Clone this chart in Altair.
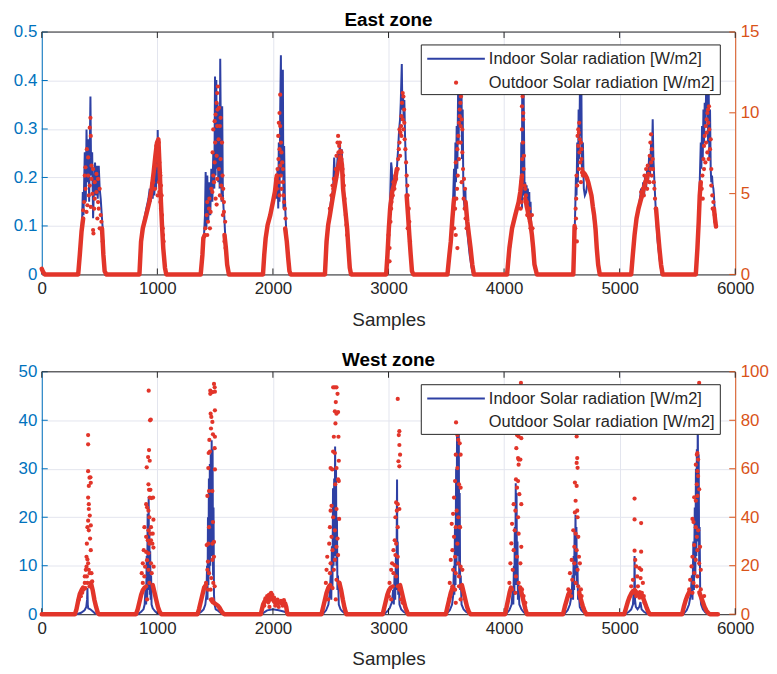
import altair as alt
import pandas as pd

# ---------------- values ----------------
x_ticks = [0, 1000, 2000, 3000, 4000, 5000, 6000]
east_left_ticks = [0, 0.1, 0.2, 0.3, 0.4, 0.5]
east_right_ticks = [0, 5, 10, 15]
west_left_ticks = [0, 10, 20, 30, 40, 50]
west_right_ticks = [0, 20, 40, 60, 80, 100]
legend_labels = ["Indoor Solar radiation [W/m2]", "Outdoor Solar radiation [W/m2]"]
titles = ["East zone", "West zone"]
x_title = "Samples"

# East zone - indoor solar radiation (left axis), (sample, value)
east_indoor = [
    (0, 0.01), (25, 0),
    (321, 0), (338, 0.068), (350, 0.122), (355, 0.170), (361, 0.122), (372, 0.252), (381, 0.150), (387, 0.299),
    (395, 0.190), (401, 0.279), (410, 0.150), (421, 0.367), (427, 0.204), (436, 0.252), (444, 0.116), (453, 0.190),
    (461, 0.231), (467, 0.163), (476, 0.224), (484, 0.156), (493, 0.224), (501, 0.177), (510, 0.156), (519, 0.122),
    (527, 0.095), (536, 0.041), (547, 0),
    (848, 0), (865, 0.068), (882, 0.109), (905, 0.136), (923, 0.156), (934, 0.177), (943, 0.150), (951, 0.190),
    (960, 0.156), (968, 0.211), (974, 0.163), (983, 0.231), (988, 0.177), (994, 0.252), (1000, 0.190), (1003, 0.298),
    (1009, 0.204), (1014, 0.272), (1020, 0.184), (1026, 0.218), (1031, 0.156), (1037, 0.136), (1043, 0.109),
    (1049, 0.075), (1057, 0.041), (1069, 0.007), (1077, 0),
    (1378, 0), (1392, 0.054), (1404, 0.082), (1412, 0.122), (1418, 0.211), (1424, 0.095), (1432, 0.204), (1441, 0.109),
    (1450, 0.190), (1458, 0.122), (1467, 0.218), (1476, 0.150), (1484, 0.252), (1493, 0.177), (1499, 0.408),
    (1504, 0.204), (1510, 0.401), (1516, 0.218), (1521, 0.354), (1527, 0.190), (1533, 0.340), (1539, 0.177),
    (1544, 0.445), (1550, 0.272), (1556, 0.150), (1561, 0.347), (1567, 0.163), (1573, 0.136), (1579, 0.122),
    (1584, 0.095), (1593, 0.054), (1604, 0.014), (1616, 0),
    (1917, 0), (1931, 0.054), (1948, 0.095), (1971, 0.122), (1994, 0.143), (2011, 0.163), (2023, 0.190), (2031, 0.156),
    (2040, 0.218), (2046, 0.136), (2051, 0.272), (2057, 0.150), (2063, 0.340), (2069, 0.452), (2074, 0.204),
    (2080, 0.394), (2086, 0.422), (2091, 0.136), (2097, 0.265), (2103, 0.163), (2109, 0.122), (2114, 0.095),
    (2123, 0.068), (2132, 0.034), (2143, 0),
    (2453, 0), (2470, 0.068), (2487, 0.122), (2504, 0.156), (2521, 0.177), (2530, 0.241), (2539, 0.190), (2550, 0.204),
    (2562, 0.252), (2570, 0.218), (2579, 0.272), (2587, 0.231), (2596, 0.258), (2605, 0.190), (2613, 0.177),
    (2622, 0.150), (2630, 0.129), (2639, 0.095), (2648, 0.068), (2659, 0.027), (2670, 0),
    (2983, 0), (2994, 0.054), (3006, 0.122), (3014, 0.156), (3023, 0.231), (3029, 0.218), (3034, 0.156), (3043, 0.177),
    (3054, 0.204), (3066, 0.190), (3074, 0.224), (3083, 0.258), (3092, 0.299), (3100, 0.320), (3106, 0.354),
    (3115, 0.434), (3120, 0.340), (3126, 0.374), (3132, 0.313), (3137, 0.360), (3143, 0.286), (3149, 0.238),
    (3155, 0.190), (3160, 0.156), (3169, 0.122), (3178, 0.088), (3186, 0.054), (3198, 0.014), (3209, 0),
    (3513, 0), (3527, 0.041), (3541, 0.082), (3553, 0.122), (3561, 0.170), (3567, 0.218), (3573, 0.156), (3579, 0.272),
    (3584, 0.190), (3590, 0.306), (3596, 0.218), (3602, 0.374), (3607, 0.272), (3613, 0.408), (3619, 0.46),
    (3624, 0.306), (3630, 0.45), (3636, 0.238), (3642, 0.340), (3647, 0.190), (3653, 0.150), (3659, 0.136),
    (3665, 0.177), (3670, 0.122), (3679, 0.095), (3690, 0.068), (3702, 0.041), (3719, 0.014), (3733, 0),
    (4029, 0), (4050, 0.05), (4075, 0.10), (4100, 0.13), (4125, 0.150), (4140, 0.170), (4143, 0.150), (4149, 0.272),
    (4155, 0.136), (4157, 0.408), (4163, 0.163), (4166, 0.46), (4172, 0.306), (4178, 0.156), (4183, 0.190),
    (4189, 0.136), (4195, 0.184), (4200, 0.122), (4206, 0.177), (4212, 0.116), (4218, 0.170), (4223, 0.109),
    (4229, 0.150), (4235, 0.095), (4241, 0.068), (4252, 0.041), (4263, 0.014), (4281, 0),
    (4602, 0), (4610, 0.082), (4616, 0.136), (4622, 0.204), (4627, 0.163), (4633, 0.272), (4639, 0.190), (4645, 0.340),
    (4650, 0.238), (4656, 0.374), (4662, 0.286), (4668, 0.43), (4673, 0.218), (4682, 0.272), (4690, 0.177),
    (4699, 0.163), (4710, 0.170), (4722, 0.190), (4739, 0.184), (4756, 0.156), (4773, 0.122), (4788, 0.088),
    (4799, 0.054), (4814, 0.020), (4828, 0),
    (5103, 0), (5117, 0.054), (5134, 0.095), (5152, 0.122), (5172, 0.150), (5186, 0.177), (5195, 0.156), (5203, 0.190),
    (5212, 0.163), (5220, 0.204), (5229, 0.177), (5238, 0.218), (5246, 0.190), (5255, 0.245), (5263, 0.204),
    (5272, 0.272), (5278, 0.218), (5286, 0.320), (5292, 0.238), (5301, 0.190), (5309, 0.150), (5318, 0.109),
    (5329, 0.068), (5344, 0.034), (5364, 0),
    (5662, 0), (5673, 0.054), (5684, 0.122), (5693, 0.190), (5702, 0.272), (5707, 0.218), (5713, 0.306), (5719, 0.238),
    (5725, 0.340), (5730, 0.272), (5736, 0.354), (5742, 0.306), (5748, 0.374), (5753, 0.408), (5759, 0.44),
    (5765, 0.272), (5770, 0.394), (5776, 0.238), (5782, 0.340), (5788, 0.218), (5793, 0.190), (5799, 0.204),
    (5805, 0.184), (5811, 0.177), (5816, 0.163), (5822, 0.136), (5828, 0.109), (5834, 0.11),
]

# East zone - outdoor radiation (right axis): dense runs of readings, one list per run
east_outdoor_runs = [
    [(0, 0.35), (12, 0.15), (25, 0), (315, 0), (329, 1.22), (344, 2.65), (358, 3.46)],
    [(521, 2.85), (533, 1.22), (544, 0.2), (559, 0), (845, 0), (859, 2.04), (874, 2.85), (903, 3.67), (931, 4.48),
     (951, 5.30), (968, 6.32), (983, 7.34), (997, 8.16), (1009, 8.36), (1020, 6.52), (1031, 4.48), (1040, 3.06),
     (1051, 1.63), (1066, 0.41), (1077, 0), (1375, 0), (1390, 1.22), (1398, 2.24), (1410, 2.44)],
    [(1581, 2.44), (1593, 1.63), (1604, 0.61), (1619, 0), (1914, 0), (1925, 1.22), (1937, 2.24), (1954, 3.06),
     (1977, 3.67), (2000, 4.48), (2017, 5.10), (2034, 6.12)],
    [(2106, 2.85), (2120, 2.04), (2132, 1.02), (2143, 0.2), (2154, 0), (2450, 0), (2464, 2.04), (2478, 3.06),
     (2493, 3.67), (2516, 4.69), (2536, 5.50), (2556, 6.32), (2573, 6.93), (2585, 7.3), (2597, 6.8), (2607, 5.30),
     (2625, 4.07), (2642, 2.85), (2653, 1.63), (2665, 0.41), (2676, 0), (2980, 0), (2991, 1.22), (3003, 2.85),
     (3014, 4.07), (3031, 5.10), (3054, 5.71), (3072, 6.52)],
    [(3157, 4.89), (3169, 3.67), (3180, 2.44), (3192, 1.22), (3203, 0.2), (3215, 0), (3510, 0), (3524, 1.02),
     (3539, 2.04), (3553, 3.46), (3567, 4.69)],
    [(3667, 4.48), (3682, 3.26), (3696, 2.44), (3710, 1.63), (3725, 0.61), (3739, 0), (4026, 0), (4046, 1.63),
     (4069, 2.85), (4097, 3.67), (4126, 4.48), (4140, 5.10), (4155, 6.12)],
    [(4183, 4.69), (4206, 3.87), (4226, 3.26), (4241, 2.44), (4252, 1.63), (4263, 0.61), (4284, 0), (4599, 0),
     (4605, 1.5), (4610, 3.0)],
    [(4676, 6.3), (4685, 6.32), (4700, 6.2), (4715, 6.0), (4728, 5.71), (4742, 5.3), (4756, 4.89), (4768, 4.2),
     (4779, 3.67), (4791, 2.85), (4802, 1.63), (4814, 0.61), (4828, 0), (5100, 0), (5114, 1.22), (5129, 2.44),
     (5146, 3.46), (5163, 4.07), (5186, 4.69), (5215, 5.50), (5243, 6.12)],
    [(5315, 4.07), (5329, 2.85), (5344, 1.63), (5358, 0.61), (5372, 0), (5659, 0), (5673, 1.63), (5684, 3.26),
     (5693, 4.89), (5702, 5.71)],
    [(5816, 4.07), (5822, 3.67), (5828, 3.26), (5834, 2.96)],
]

# East zone - outdoor radiation (right axis): scattered midday readings
east_outdoor_scatter = [
    (421, 9.69), (415, 9.08), (424, 8.57), (390, 7.75), (401, 7.24), (378, 6.63), (372, 6.12), (430, 6.73), (444, 6.52),
    (401, 6.12), (458, 5.71), (473, 6.22), (487, 5.91), (378, 5.30), (415, 5.50), (438, 4.99), (458, 4.69), (367, 4.48),
    (395, 4.28), (424, 4.18), (487, 4.48), (493, 4.07), (510, 3.67), (444, 2.75), (447, 2.54), (516, 3.26), (358, 3.97),
    (387, 3.87), (473, 5.10), (501, 5.30), (407, 4.89), (430, 5.91), (453, 4.07), (481, 3.46), (501, 2.85), (527, 2.04),
    (974, 6.52), (988, 6.73), (1003, 7.55), (1009, 7.75), (997, 7.14), (1017, 6.93), (1026, 6.12), (1031, 5.50),
    (1037, 4.89), (1031, 4.07), (1040, 3.67), (1046, 2.85), (1049, 2.44), (1054, 2.04), (963, 5.71), (980, 5.30),
    (1003, 4.89), (1017, 5.10), (1026, 4.48), (991, 7.95), (1011, 8.16), (1003, 7.34), (1014, 5.71), (1023, 6.32),
    (1524, 11.63), (1518, 11.22), (1513, 10.61), (1521, 10.20), (1504, 9.89), (1533, 10.30), (1496, 9.48),
    (1547, 9.69), (1484, 8.97), (1518, 9.18), (1541, 9.18), (1501, 8.16), (1530, 8.36), (1559, 8.16), (1478, 7.55),
    (1513, 7.34), (1547, 7.14), (1496, 6.93), (1533, 6.52), (1564, 6.12), (1484, 6.12), (1518, 5.91), (1553, 5.50),
    (1570, 5.30), (1476, 5.10), (1504, 4.69), (1541, 4.89), (1561, 4.69), (1576, 4.48), (1432, 4.48), (1447, 4.07),
    (1427, 3.67), (1438, 3.26), (1461, 3.87), (1415, 2.85), (1432, 2.44), (1455, 2.85), (1513, 4.32), (1576, 3.87),
    (1587, 3.26), (1567, 3.67), (1467, 5.30), (1490, 5.71), (1450, 4.69), (1581, 2.04), (1590, 1.63),
    (2063, 11.12), (2057, 9.99), (2051, 9.38), (2063, 9.18), (2046, 8.57), (2069, 8.16), (2057, 7.75), (2074, 7.55),
    (2048, 7.14), (2063, 6.73), (2080, 6.93), (2040, 6.52), (2069, 6.12), (2086, 5.71), (2029, 5.91), (2051, 5.71),
    (2074, 5.30), (2091, 4.89), (2097, 4.48), (2103, 4.07), (2034, 5.30), (2057, 4.89), (2109, 3.46), (2086, 6.52),
    (2564, 8.57), (2559, 8.16), (2573, 7.95), (2579, 8.16), (2567, 7.55), (2584, 7.65), (2550, 7.34), (2593, 7.14),
    (2579, 6.73), (2544, 6.52), (2527, 5.91), (2516, 5.50), (2602, 6.52), (2607, 6.12), (2507, 4.89), (2521, 5.30),
    (2613, 5.50), (2619, 4.69), (2630, 3.67), (2636, 3.06), (2642, 2.44), (2493, 4.07), (2536, 5.71), (2593, 7.55),
    (3009, 1.63), (3000, 2.44), (3017, 3.26), (3026, 4.48), (3037, 4.89), (3023, 4.07), (3043, 5.71), (3060, 6.12),
    (3051, 5.30), (3066, 5.91), (3080, 6.52), (3089, 7.75), (3095, 8.16), (3103, 8.77), (3112, 9.79), (3117, 10.61),
    (3123, 11.22), (3129, 11.01), (3109, 9.18), (3123, 9.59), (3135, 10.20), (3129, 8.97), (3140, 8.36), (3146, 7.75),
    (3152, 6.93), (3157, 6.12), (3163, 5.50), (3083, 7.14), (3095, 8.97), (3112, 8.57), (3137, 9.38), (3100, 7.34),
    (3009, 0.81), (3166, 4.89), (3175, 4.07), (3180, 3.26), (3166, 2.85), (3186, 2.04),
    (3596, 1.63), (3582, 2.44), (3567, 2.85), (3576, 4.07), (3587, 4.69), (3593, 5.30), (3599, 6.12), (3582, 6.93),
    (3596, 7.75), (3604, 8.57), (3610, 9.38), (3616, 9.79), (3624, 9.18), (3633, 9.59), (3639, 8.97), (3616, 10.20),
    (3622, 10.61), (3627, 11.01), (3604, 8.16), (3639, 7.55), (3645, 6.52), (3653, 5.91), (3662, 5.30), (3650, 4.69),
    (3659, 4.07), (3667, 3.46), (3676, 2.85), (3633, 5.71), (3610, 7.14), (3624, 8.16),
    (4160, 11.01), (4166, 9.99), (4155, 8.97), (4163, 8.16), (4157, 7.14), (4169, 6.52), (4149, 5.71), (4178, 5.50),
    (4183, 5.30), (4189, 4.89), (4198, 4.48), (4206, 4.07), (4212, 3.67), (4218, 4.07), (4223, 3.26), (4200, 3.67),
    (4229, 2.85), (4241, 3.67), (4246, 2.85), (4172, 7.34), (4166, 9.59), (4155, 10.40), (4152, 4.48), (4143, 4.07),
    (4636, 8.57), (4647, 8.77), (4656, 8.36), (4665, 8.16), (4642, 7.95), (4653, 7.55), (4670, 7.14), (4627, 6.12),
    (4633, 5.50), (4624, 4.69), (4619, 4.07), (4622, 3.46), (4616, 2.85), (4630, 2.04), (4676, 6.52), (4665, 5.71),
    (4659, 6.93), (4642, 8.97), (4650, 9.38), (4670, 7.75), (4682, 6.12), (4647, 6.52),
    (5272, 8.67), (5266, 8.16), (5278, 7.75), (5260, 7.34), (5272, 6.93), (5286, 7.14), (5243, 6.73), (5229, 6.52),
    (5215, 6.12), (5220, 5.71), (5200, 5.30), (5238, 5.30), (5258, 5.71), (5278, 6.12), (5295, 5.71), (5301, 5.30),
    (5306, 4.69), (5312, 4.07), (5186, 5.10), (5209, 4.89), (5266, 6.52), (5289, 6.52), (5249, 6.22), (5238, 5.91),
    (5716, 6.12), (5725, 7.14), (5730, 7.95), (5736, 8.57), (5745, 9.18), (5753, 9.59), (5759, 9.99), (5765, 10.20),
    (5773, 10.40), (5748, 8.16), (5759, 7.55), (5770, 7.14), (5782, 7.75), (5788, 8.36), (5776, 8.97), (5742, 6.93),
    (5730, 6.52), (5710, 5.30), (5719, 4.69), (5793, 5.50), (5802, 4.89), (5811, 4.48), (5816, 4.07), (5822, 3.67),
    (5828, 3.26), (5805, 4.07), (5793, 6.52), (5753, 8.77), (5767, 9.38),
]

# West zone - indoor solar radiation (left axis)
west_indoor = [
    (0, 0), (300, 0), (340, 0.3), (370, 0.8), (385, 1.5), (392, 3), (395, 5.4), (398, 2), (402, 1.2), (420, 1.0),
    (440, 0.6), (460, 0.2), (490, 0),
    (830, 0), (860, 0.5), (880, 1), (890, 2), (897, 5), (903, 2), (908, 12), (912, 3), (916, 20.7), (919, 5), (922, 15),
    (925, 24.2), (928, 8), (931, 18), (935, 4), (938, 13), (942, 3), (946, 8), (950, 2), (960, 1.2), (980, 0.6),
    (1000, 0.2), (1030, 0),
    (1350, 0), (1380, 0.5), (1400, 1), (1415, 2), (1425, 4), (1430, 10), (1434, 3), (1438, 20), (1442, 6), (1446, 28),
    (1450, 8), (1454, 31), (1458, 10), (1462, 33), (1466, 12), (1470, 35.9), (1474, 15), (1478, 34), (1482, 8),
    (1486, 22), (1490, 4), (1495, 2), (1505, 1), (1520, 0.8), (1540, 0.4), (1560, 0.1), (1580, 0),
    (1900, 0), (1950, 0.8), (2000, 1), (2050, 0.8), (2100, 0.5), (2130, 0),
    (2430, 0), (2460, 0.8), (2480, 2), (2490, 4), (2500, 8), (2505, 3), (2510, 14), (2515, 5), (2520, 26), (2525, 10),
    (2530, 28), (2534, 12), (2538, 34.6), (2542, 18), (2546, 30), (2550, 10), (2554, 20), (2558, 5), (2563, 8),
    (2570, 2), (2585, 1), (2600, 0.6), (2620, 0.2), (2640, 0),
    (2960, 0), (2990, 0.6), (3010, 1.2), (3030, 2.5), (3040, 5), (3046, 2), (3052, 8), (3058, 3), (3064, 12), (3068, 5),
    (3072, 20), (3074, 27.8), (3077, 8), (3080, 15), (3084, 4), (3090, 6), (3095, 2), (3110, 1), (3130, 0.5),
    (3150, 0.2), (3170, 0),
    (3500, 0), (3530, 0.8), (3550, 2), (3560, 4), (3566, 10), (3570, 4), (3575, 18), (3580, 6), (3585, 30), (3589, 10),
    (3593, 38), (3597, 12), (3600, 42), (3604, 15), (3608, 40), (3612, 8), (3616, 25), (3620, 5), (3625, 8), (3632, 2),
    (3650, 1), (3670, 0.5), (3690, 0.2), (3710, 0),
    (4015, 0), (4045, 0.8), (4065, 2), (4075, 5), (4080, 2), (4085, 10), (4089, 4), (4093, 18), (4097, 6), (4101, 27),
    (4104, 10), (4108, 25), (4112, 6), (4116, 15), (4120, 3), (4125, 6), (4132, 2), (4150, 1), (4170, 0.4),
    (4190, 0.1), (4205, 0),
    (4520, 0), (4550, 0.8), (4570, 2), (4585, 4), (4592, 8), (4597, 3), (4602, 12), (4606, 5), (4610, 17), (4614, 8),
    (4618, 20.5), (4622, 10), (4626, 18), (4630, 6), (4635, 10), (4640, 3), (4648, 4), (4655, 1.5), (4670, 0.8),
    (4690, 0.3), (4715, 0),
    (5045, 0), (5080, 0.5), (5100, 1), (5115, 2), (5122, 5), (5126, 2), (5129, 12), (5133, 3), (5140, 1.5), (5155, 1),
    (5170, 1.5), (5180, 2.5), (5190, 1), (5210, 0.5), (5240, 0.1), (5260, 0),
    (5550, 0), (5580, 0.8), (5600, 2), (5615, 4), (5625, 8), (5630, 3), (5638, 15), (5643, 5), (5650, 22), (5655, 8),
    (5660, 30), (5664, 12), (5668, 34), (5672, 15), (5676, 41), (5680, 20), (5684, 33), (5688, 10), (5692, 18),
    (5697, 4), (5705, 2), (5720, 1), (5740, 0.4), (5760, 0.1), (5780, 0), (5850, 0),
]

# West zone - outdoor radiation (right axis): dense runs of readings
west_outdoor_runs = [
    [(0, 0), (287, 0), (300, 2), (315, 5.5), (330, 8.5), (345, 10), (358, 11)],
    [(425, 13), (440, 10), (455, 6), (470, 3), (485, 0.5), (495, 0), (815, 0), (830, 2), (845, 5), (860, 8), (875, 10),
     (890, 11)],
    [(960, 12), (975, 9), (990, 6), (1005, 3), (1020, 1), (1035, 0), (1347, 0), (1360, 2), (1375, 5), (1390, 8),
     (1405, 11), (1420, 12)],
    [(1465, 6), (1480, 5), (1495, 4.5), (1510, 4), (1525, 3.5), (1540, 2.5), (1555, 1.2), (1570, 0.3), (1580, 0),
     (1895, 0), (1905, 2), (1915, 4), (1930, 5.5), (1945, 6), (1960, 5), (1975, 7), (1990, 7.5), (2000, 6), (2015, 5),
     (2030, 5.5), (2045, 4.5), (2060, 5), (2075, 4.5), (2090, 4), (2105, 4.5), (2115, 3), (2122, 1), (2128, 0),
     (2420, 0), (2435, 3), (2450, 6), (2465, 9), (2480, 11), (2495, 12)],
    [(2575, 13), (2590, 10), (2605, 6), (2620, 2.5), (2635, 0), (2950, 0), (2962, 2.5), (2975, 5), (2990, 8),
     (3005, 10), (3020, 11)],
    [(3100, 12), (3115, 9), (3130, 6), (3145, 3), (3160, 1), (3170, 0), (3496, 0), (3510, 3), (3525, 6), (3540, 9),
     (3555, 11)],
    [(3635, 12), (3650, 9), (3665, 6), (3680, 3), (3695, 1), (3710, 0), (4010, 0), (4022, 3), (4035, 6), (4048, 9),
     (4060, 11)],
    [(4140, 11), (4155, 8), (4170, 5), (4185, 2), (4198, 0), (4510, 0), (4525, 3), (4540, 5.5), (4555, 8),
     (4570, 9.5)],
    [(4650, 9), (4665, 6), (4680, 3.5), (4695, 1.5), (4712, 0), (5040, 0), (5055, 2.5), (5070, 5), (5085, 7),
     (5100, 8.5), (5115, 9.5), (5130, 10), (5145, 9), (5160, 8), (5175, 9), (5190, 8), (5205, 6.5), (5220, 4.5),
     (5235, 2.5), (5250, 0.8), (5260, 0), (5540, 0), (5555, 3), (5570, 5.5), (5585, 7.5), (5600, 9)],
    [(5690, 9), (5705, 7), (5720, 5), (5735, 3), (5750, 1.5), (5770, 0.3), (5780, 0), (5850, 0)],
]

# West zone - outdoor radiation (right axis): scattered midday readings
west_outdoor_scatter = [
    (401, 73.9), (401, 70.1), (401, 59.0), (413, 56.3), (407, 52.9), (421, 56.5), (424, 54.2), (401, 48.1), (407, 45.4),
    (407, 43.4), (415, 40.7), (401, 38.6), (395, 35.9), (407, 34.6), (424, 36.6), (390, 29.1), (418, 31.2), (424, 26.4),
    (387, 23.7), (395, 22.6), (401, 21.0), (381, 18.3), (390, 15.6), (407, 18.3), (415, 16.9), (430, 16.9),
    (436, 13.5), (372, 12.9), (378, 10.8), (361, 10.1), (350, 8.8), (338, 7.4), (321, 6.1), (395, 12.9), (413, 11.5),
    (387, 19.6), (372, 15.6),
    (925, 92.2), (937, 80.0), (943, 80.3), (928, 67.7), (920, 64.8), (934, 63.3), (908, 60.6), (923, 53.6), (928, 51.3),
    (940, 51.3), (934, 48.1), (963, 48.1), (948, 47.9), (903, 45.4), (911, 44.1), (923, 42.7), (931, 40.0), (966, 39.0),
    (945, 35.9), (923, 34.6), (940, 33.2), (960, 33.2), (888, 35.9), (903, 31.9), (917, 30.5), (945, 30.5), (931, 29.1),
    (957, 29.1), (882, 26.4), (903, 25.7), (923, 25.1), (966, 27.5), (874, 21.0), (894, 19.6), (911, 22.3), (945, 21.0),
    (968, 19.6), (865, 16.9), (888, 15.6), (923, 18.3), (951, 16.9), (874, 12.9), (903, 11.5), (931, 12.9), (911, 6.1),
    (1490, 95.0), (1496, 93.6), (1458, 92.2), (1498, 91.8), (1476, 91.6), (1458, 90.9), (1461, 82.7), (1498, 84.1),
    (1467, 81.4), (1476, 79.3), (1464, 76.6), (1481, 74.2), (1450, 71.9), (1498, 73.2), (1455, 67.1), (1496, 68.5),
    (1444, 66.5), (1441, 60.3), (1498, 59.7), (1447, 50.8), (1433, 48.8), (1476, 50.8), (1481, 38.0), (1447, 35.9),
    (1441, 29.1), (1476, 29.1), (1490, 29.8), (1427, 28.5), (1438, 21.7), (1476, 22.4), (1490, 23.7), (1433, 18.3),
    (1447, 16.9), (1467, 14.9), (1484, 12.9), (1421, 12.9), (1438, 10.1), (1461, 10.1), (1496, 11.5), (1478, 6.1),
    (1950, 7.5), (1965, 8), (1980, 8.5), (1985, 8.8), (1995, 8), (2010, 6.8), (2040, 6), (2070, 5.5), (2095, 5.8),
    (1935, 6.5), (1970, 3), (2020, 3.5), (2050, 3), (2085, 3.5), (1925, 3.5),
    (2521, 93.6), (2536, 93.6), (2550, 93.6), (2559, 90.9), (2544, 87.5), (2536, 83.7), (2550, 82.7), (2564, 83.4),
    (2541, 78.7), (2527, 73.2), (2567, 73.2), (2521, 67.1), (2536, 66.5), (2570, 63.3), (2499, 60.3), (2513, 59.7),
    (2550, 60.3), (2564, 55.6), (2570, 54.9), (2539, 53.6), (2507, 44.7), (2499, 42.7), (2521, 40.0), (2550, 43.4),
    (2573, 39.3), (2493, 35.9), (2507, 31.9), (2536, 34.6), (2559, 31.2), (2487, 29.1), (2516, 26.4), (2550, 27.8),
    (2470, 23.7), (2499, 21.0), (2536, 22.4), (2564, 24.4), (2464, 18.3), (2493, 16.9), (2527, 18.3), (2550, 14.2),
    (2458, 12.9), (2487, 11.5), (2516, 10.8), (2573, 12.9), (2478, 6.1), (2544, 6.1),
    (3080, 88.8), (3094, 75.5), (3089, 73.9), (3094, 69.8), (3100, 65.8), (3086, 63.1), (3094, 61.0), (3066, 46.1),
    (3080, 45.4), (3094, 43.4), (3072, 42.7), (3060, 40.0), (3080, 35.9), (3054, 30.5), (3066, 29.1), (3043, 26.4),
    (3060, 24.4), (3080, 23.7), (3031, 21.0), (3051, 20.3), (3072, 19.6), (3023, 18.3), (3043, 16.9), (3066, 15.6),
    (3009, 12.9), (3037, 11.5), (3080, 11.5), (3003, 7.4), (3023, 6.1), (3094, 10.1), (3109, 6.1), (3123, 4.7),
    (3596, 73.9), (3604, 71.9), (3616, 70.5), (3582, 65.8), (3624, 65.8), (3596, 60.3), (3576, 54.9), (3610, 53.6),
    (3624, 52.2), (3567, 48.1), (3590, 42.7), (3604, 40.0), (3616, 35.9), (3559, 41.4), (3547, 37.3), (3582, 35.9),
    (3567, 31.9), (3596, 29.1), (3619, 35.9), (3553, 26.4), (3576, 23.7), (3604, 21.0), (3624, 19.6), (3539, 22.4),
    (3559, 18.3), (3582, 16.9), (3610, 15.6), (3639, 18.3), (3530, 12.9), (3553, 11.5), (3576, 10.1), (3610, 11.5),
    (3639, 10.1), (3524, 6.1), (3582, 4.7), (3624, 6.1),
    (4146, 95.4), (4112, 73.9), (4126, 73.3), (4149, 72.6), (4106, 68.5), (4121, 64.4), (4126, 63.8), (4141, 63.8),
    (4126, 61.7), (4103, 55.6), (4121, 54.9), (4112, 52.2), (4132, 49.5), (4149, 45.4), (4083, 45.4), (4098, 42.7),
    (4121, 40.0), (4069, 37.3), (4092, 34.6), (4126, 33.2), (4149, 27.8), (4063, 29.2), (4083, 26.4), (4112, 23.7),
    (4141, 21.0), (4055, 21.0), (4075, 18.3), (4103, 15.6), (4126, 12.9), (4155, 10.2), (4046, 12.9), (4069, 10.2),
    (4098, 8.8), (4169, 7.5), (4184, 4.7),
    (4628, 73.3), (4633, 64.4), (4628, 62.4), (4636, 60.4), (4613, 54.3), (4628, 52.9), (4619, 46.8), (4633, 42.7),
    (4613, 42.0), (4636, 40.0), (4599, 34.6), (4619, 33.2), (4642, 31.9), (4608, 27.8), (4628, 26.4), (4648, 23.7),
    (4585, 22.4), (4608, 21.0), (4636, 18.3), (4656, 21.0), (4570, 16.9), (4590, 14.2), (4619, 12.9), (4642, 11.5),
    (4665, 10.2), (4556, 10.2), (4579, 7.5), (4671, 7.5),
    (5129, 47.7), (5129, 39.1), (5186, 37.6), (5129, 26.2), (5186, 25.8), (5135, 22.4), (5143, 19.7), (5172, 19.0),
    (5186, 18.3), (5152, 15.6), (5181, 14.9), (5201, 12.9), (5115, 14.2), (5100, 11.5), (5158, 11.5), (5192, 8.8),
    (5209, 7.5), (5123, 8.8), (5143, 7.5), (5172, 6.8), (5215, 4.7),
    (5688, 95.4), (5673, 66.5), (5668, 65.8), (5679, 63.8), (5659, 61.7), (5673, 59.0), (5679, 57.0), (5668, 53.6),
    (5688, 51.5), (5673, 48.8), (5659, 46.8), (5645, 48.2), (5630, 39.3), (5639, 38.0), (5659, 35.9), (5679, 34.6),
    (5668, 31.9), (5645, 28.5), (5673, 26.4), (5696, 27.8), (5630, 23.7), (5659, 22.4), (5688, 21.0), (5622, 19.7),
    (5645, 17.0), (5673, 15.6), (5702, 18.3), (5610, 14.2), (5639, 12.9), (5668, 11.5), (5702, 10.2), (5731, 7.5),
    (5602, 10.2), (5630, 8.8),
]

# ---------------- styling ----------------
W, H = 698, 244
BLUE_LINE = "#2E40A4"
RED = "#E2352A"
AX_BLUE = "#0072BD"
AX_ORANGE = "#D95319"
DARK = "#262626"
GRID = "#E3E5EE"
FONT = "Liberation Sans"


def pairs_df(pairs):
    return pd.DataFrame(pairs, columns=["x", "y"])


def runs_df(runs):
    rows = []
    for i, run in enumerate(runs):
        for x, y in run:
            rows.append({"x": x, "y": y, "run": i})
    return pd.DataFrame(rows)


def panel(title, indoor, runs, scatter, lticks, rticks, ldom, rdom, lfmt):
    xs = alt.Scale(domain=[0, 6000], nice=False, zero=False)
    ls = alt.Scale(domain=ldom, nice=False, zero=False)
    rs = alt.Scale(domain=rdom, nice=False, zero=False)

    xaxis = alt.Axis(values=x_ticks, grid=True, gridColor=GRID, gridWidth=1, ticks=False,
                     domainColor=DARK, labelColor=DARK, labelFontSize=17, labelPadding=6,
                     labelFlush=False, format="d", title=x_title, titleFontSize=19,
                     titleFontWeight="normal", titleColor=DARK, titlePadding=14,
                     labelFont=FONT, titleFont=FONT)
    laxis = alt.Axis(values=lticks, orient="left", grid=True, gridColor=GRID, gridWidth=1, ticks=False,
                     domainColor=AX_BLUE, labelColor=AX_BLUE, labelFontSize=17, labelPadding=5,
                     labelFlush=False, format=lfmt, title=None, labelFont=FONT)
    raxis = alt.Axis(values=rticks, orient="right", grid=False, ticks=False,
                     domainColor=AX_ORANGE, labelColor=AX_ORANGE, labelFontSize=17, labelPadding=5,
                     labelFlush=False, format="d", title=None, labelFont=FONT)

    X = lambda f: alt.X(f, scale=xs, axis=xaxis)
    YL = lambda f: alt.Y(f, scale=ls, axis=laxis)
    YR = lambda f: alt.Y(f, scale=rs, axis=raxis)

    xt = pd.DataFrame({"v": x_ticks})
    lt = pd.DataFrame({"v": lticks})
    rt = pd.DataFrame({"v": rticks})
    one = pd.DataFrame({"k": [0]})

    blue = alt.Chart(pairs_df(indoor)).mark_line(color=BLUE_LINE, strokeWidth=2).encode(
        x=X("x:Q"), y=YL("y:Q"))
    lt_rule = alt.Chart(lt).mark_rule(color=AX_BLUE, strokeWidth=1).encode(
        y=YL("v:Q"), x=alt.value(0), x2=alt.value(6))
    xt_bottom = alt.Chart(xt).mark_rule(color=DARK, strokeWidth=1).encode(
        x=X("v:Q"), y=alt.value(H), y2=alt.value(H - 6))
    xt_top = alt.Chart(xt).mark_rule(color=DARK, strokeWidth=1).encode(
        x=X("v:Q"), y=alt.value(0), y2=alt.value(6))
    top_border = alt.Chart(one).mark_rule(color=DARK, strokeWidth=1).encode(
        x=alt.value(0), x2=alt.value(W), y=alt.value(0))
    left_part = alt.layer(blue, lt_rule, xt_bottom, xt_top, top_border)

    red_runs = alt.Chart(runs_df(runs)).mark_line(
        color=RED, strokeWidth=4.5, strokeCap="round", strokeJoin="round").encode(
        x=X("x:Q"), y=YR("y:Q"), detail="run:N")
    red_pts = alt.Chart(pairs_df(scatter)).mark_circle(color=RED, size=18, opacity=1).encode(
        x=X("x:Q"), y=YR("y:Q"))
    rt_rule = alt.Chart(rt).mark_rule(color=AX_ORANGE, strokeWidth=1).encode(
        y=YR("v:Q"), x=alt.value(W - 6), x2=alt.value(W))

    # legend box
    box = alt.Chart(one).mark_rect(fill="white", stroke=DARK, strokeWidth=1).encode(
        x=alt.value(382), x2=alt.value(683), y=alt.value(13), y2=alt.value(63))
    leg_line = alt.Chart(one).mark_rule(color=BLUE_LINE, strokeWidth=2).encode(
        x=alt.value(388), x2=alt.value(446), y=alt.value(27))
    leg_dot = alt.Chart(one).mark_circle(color=RED, size=18, opacity=1).encode(
        x=alt.value(417), y=alt.value(51))
    leg_t1 = alt.Chart(one).mark_text(
        align="left", baseline="middle", font=FONT, fontSize=16.5, color=DARK,
        text=legend_labels[0]).encode(x=alt.value(450), y=alt.value(27))
    leg_t2 = alt.Chart(one).mark_text(
        align="left", baseline="middle", font=FONT, fontSize=16.5, color=DARK,
        text=legend_labels[1]).encode(x=alt.value(450), y=alt.value(51))
    right_part = alt.layer(red_runs, red_pts, rt_rule, box, leg_line, leg_dot, leg_t1, leg_t2)

    return alt.layer(left_part, right_part).resolve_scale(y="independent").properties(
        width=W, height=H,
        title=alt.TitleParams(title, font=FONT, fontSize=19, fontWeight="bold", color="black",
                              anchor="middle", frame="group", offset=-7),
    )


top = panel(titles[0], east_indoor, east_outdoor_runs, east_outdoor_scatter,
            east_left_ticks, east_right_ticks, [0, 0.5], [0, 15], ".1~f")
bottom = panel(titles[1], west_indoor, west_outdoor_runs, west_outdoor_scatter,
               west_left_ticks, west_right_ticks, [0, 50], [0, 100], "d")

chart = alt.vconcat(top, bottom, spacing=20).properties(
    padding={"left": 4, "top": 0, "right": 0, "bottom": 0},
    background="white",
).configure_view(stroke="transparent")

chart.save("out.html", embed_options={"renderer": "svg", "actions": False})
